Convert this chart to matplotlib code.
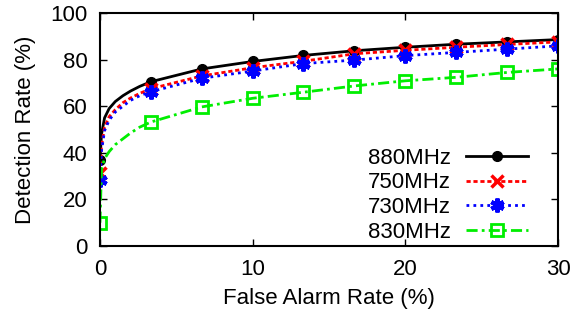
import matplotlib.pyplot as plt

plt.rcParams['font.family'] = ['Liberation Sans', 'DejaVu Sans']

# False alarm rate (%) sample points; markers sit every 10/3 %
fpr = [0, 0.1, 0.3, 0.6, 1.0, 1.5, 2.0, 2.6, 3.33, 6.67, 10.0, 13.33,
       16.67, 20.0, 23.33, 26.67, 30.0]
mark_idx = [0, 8, 9, 10, 11, 12, 13, 14, 15, 16]

# Detection rate (%) per frequency
det_880 = [37, 48, 55, 59, 62, 64.5, 66.5, 68.5, 70.5, 76, 79.2, 81.8,
           83.8, 85.3, 86.6, 87.6, 88.6]
det_750 = [31.5, 43, 51, 55.5, 58.5, 61.5, 63.5, 65.5, 67.5, 73, 76.5, 79.3,
           82.5, 84, 85.3, 86.5, 87.6]
det_730 = [28.5, 41, 49.5, 54, 57.5, 60, 62.5, 64.5, 66.2, 72, 75.1, 78.3,
           79.8, 81.7, 83.1, 84.5, 85.9]
det_830 = [10, 33, 37.5, 40.5, 43.5, 46, 48.5, 51, 53.2, 59.7, 63.4, 66,
           68.7, 70.9, 72.4, 74.5, 76]

labels = ['880MHz', '750MHz', '730MHz', '830MHz']

fig = plt.figure(figsize=(5.73, 3.22), dpi=100)
ax = fig.add_axes([0.1745, 0.236, 0.7993, 0.7236])

ax.plot(fpr, det_880, color='black', lw=2, marker='o', ms=7,
        markevery=mark_idx, label=labels[0])
ax.plot(fpr, det_750, color='red', lw=2, ls=(0, (1.5, 1)), marker='x', ms=8,
        mew=2.5, markevery=mark_idx, label=labels[1])
ax.plot(fpr, det_730, color='blue', lw=2, ls=(0, (1, 1.5)), marker=(6, 2, 0),
        ms=10, mew=3, markevery=mark_idx, label=labels[2])
ax.plot(fpr, det_830, color='#00ee00', lw=2, ls=(0, (4, 1.5, 1, 1.5)),
        marker='s', ms=9, mew=2, mfc='none', markevery=mark_idx,
        label=labels[3])

ax.set_xlim(0, 30)
ax.set_ylim(0, 100)
ax.set_xticks([0, 10, 20, 30])
ax.set_yticks(range(0, 101, 20))
ax.tick_params(direction='in', top=True, right=True, labelsize=16,
               length=5, width=1)
ax.tick_params(axis='x', pad=9)
ax.tick_params(axis='y', pad=9)
for s in ax.spines.values():
    s.set_linewidth(1.5)

ax.set_xlabel('False Alarm Rate (%)', fontsize=16, labelpad=6)
ax.set_ylabel('Detection Rate (%)', fontsize=16, labelpad=10)

ax.legend(loc='lower right', frameon=False, markerfirst=False, fontsize=16,
          handlelength=2.8, handletextpad=0.7, labelspacing=0.17,
          borderaxespad=0.0, bbox_to_anchor=(0.955, -0.025))

fig.savefig('out.png', dpi=100)
